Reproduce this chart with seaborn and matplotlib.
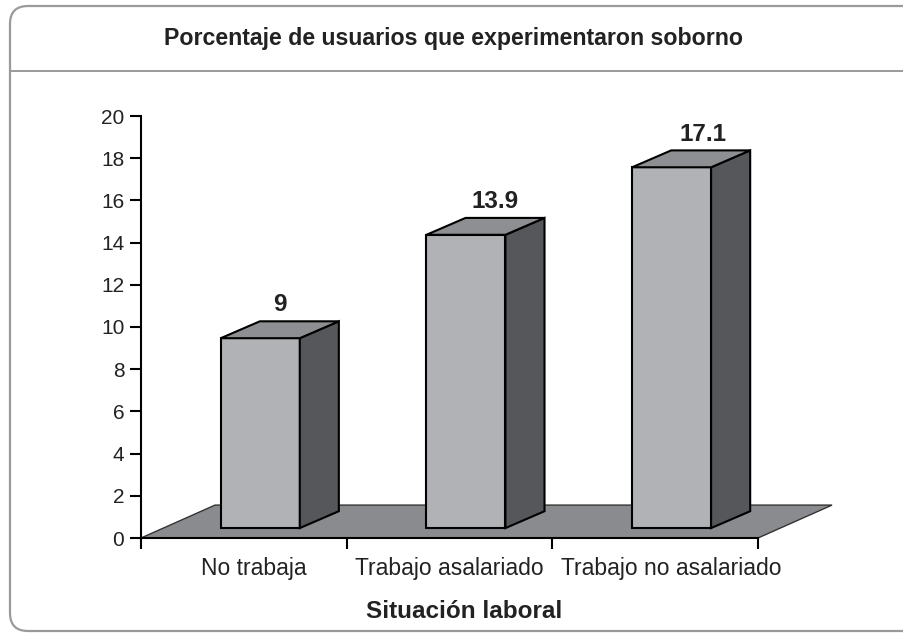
import matplotlib
matplotlib.use("Agg")
import matplotlib.pyplot as plt
import matplotlib.patches as mpatches
from matplotlib.transforms import IdentityTransform
from matplotlib.lines import Line2D
import seaborn as sns
import pandas as pd

# datos del grafico
categorias = ["No trabaja", "Trabajo asalariado", "Trabajo no asalariado"]
valores = [9, 13.9, 17.1]
etiquetas = ["9", "13.9", "17.1"]
titulo = "Porcentaje de usuarios que experimentaron soborno"
eje_x = "Situación laboral"
yticks = list(range(0, 21, 2))

# colores estilo Excel 3D
c_frente = "#b1b2b5"
c_lado = "#55575a"
c_techo = "#8e8f92"
c_piso = "#8a8b8e"

# efecto 3D (en unidades de datos)
piso_dx, piso_dy = 0.36, 1.56
barra_dx, barra_dy = 0.19, 0.80
despl_x, despl_y = 0.08, 0.47
# pequeños ajustes de posicion de textos (pixeles / unidades de categoria)
ajuste_etiqueta = [0, 10, 12]
ajuste_tick = [0.05, 0.0, 0.08]

sns.set_style("white")
plt.rcParams["font.family"] = ["Liberation Sans", "DejaVu Sans"]

W, H = 904, 633
fig = plt.figure(figsize=(W / 100, H / 100), dpi=100)

# marco redondeado y linea del titulo
marco = mpatches.FancyBboxPatch((10, H - 631), W + 30, 625,
                                boxstyle="round,pad=0,rounding_size=18",
                                transform=IdentityTransform(), facecolor="none",
                                edgecolor="#9a9a9a", linewidth=1.6, zorder=-1)
fig.patches.append(marco)
fig.lines.append(Line2D([10, W], [H - 71, H - 71], transform=IdentityTransform(),
                        color="#9a9a9a", linewidth=1.4))
fig.text(454 / W, 1 - 38 / H, titulo, ha="center", va="center",
         fontsize=16.7, fontweight="bold", color="#222222")

ax = fig.add_axes([141 / W, 1 - 538 / H, 617 / W, 422 / H])
ax.set_facecolor("none")

df = pd.DataFrame({"situacion": categorias, "valor": valores})
sns.barplot(data=df, x="situacion", y="valor", color=c_frente, saturation=1,
            width=0.384, edgecolor="black", linewidth=1.5, ax=ax, zorder=3)

barras = list(ax.patches)
for p, txt, aj in zip(barras, etiquetas, ajuste_etiqueta):
    p.set_x(p.get_x() + despl_x)
    p.set_y(p.get_y() + despl_y)
    x0, y0 = p.get_x(), p.get_y()
    x1, y1 = x0 + p.get_width(), y0 + p.get_height()
    lado = mpatches.Polygon([(x1, y0), (x1 + barra_dx, y0 + barra_dy),
                             (x1 + barra_dx, y1 + barra_dy), (x1, y1)],
                            closed=True, facecolor=c_lado, edgecolor="black",
                            linewidth=1.5, zorder=3, clip_on=False)
    techo = mpatches.Polygon([(x0, y1), (x1, y1), (x1 + barra_dx, y1 + barra_dy),
                              (x0 + barra_dx, y1 + barra_dy)],
                             closed=True, facecolor=c_techo, edgecolor="black",
                             linewidth=1.5, zorder=3, clip_on=False)
    ax.add_patch(lado)
    ax.add_patch(techo)
    ax.annotate(txt, ((x0 + x1) / 2 + barra_dx / 2, y1 + barra_dy),
                xytext=(aj * 0.72, 3.5), textcoords="offset points", ha="center",
                va="bottom", fontsize=17.5, fontweight="bold", color="#222222",
                annotation_clip=False)

# piso
piso = mpatches.Polygon([(-0.5, 0), (2.5, 0), (2.5 + piso_dx, piso_dy),
                         (-0.5 + piso_dx, piso_dy)], closed=True,
                        facecolor=c_piso, edgecolor="#333333", linewidth=1.0,
                        zorder=1, clip_on=False)
ax.add_patch(piso)

ax.set_xlim(-0.5, 2.5)
ax.set_ylim(0, 20)
ax.set_yticks(yticks)
ax.set_yticklabels([str(v) for v in yticks])
ax.set_xticks([i + a for i, a in enumerate(ajuste_tick)])
ax.set_xticklabels(categorias)
ax.set_xticks([i - 0.5 for i in range(len(categorias) + 1)], minor=True)

for s in ["top", "right"]:
    ax.spines[s].set_visible(False)
for s in ["left", "bottom"]:
    ax.spines[s].set_color("black")
    ax.spines[s].set_linewidth(1.5)
    ax.spines[s].set_zorder(4)

ax.tick_params(axis="y", direction="out", length=8, width=1.5, left=True,
               labelsize=15, pad=4, colors="black", labelcolor="#222222")
ax.tick_params(axis="x", which="major", length=0, labelsize=16.5, pad=14,
               labelcolor="#222222")
ax.tick_params(axis="x", which="minor", direction="out", length=8, width=1.5,
               bottom=True, color="black")

ax.set_ylabel("")
ax.set_xlabel(eje_x, fontsize=17.5, fontweight="bold", color="#222222")
ax.xaxis.set_label_coords((464 - 141) / 617, (538 - 600) / 422)

fig.savefig("out.png", dpi=100)
